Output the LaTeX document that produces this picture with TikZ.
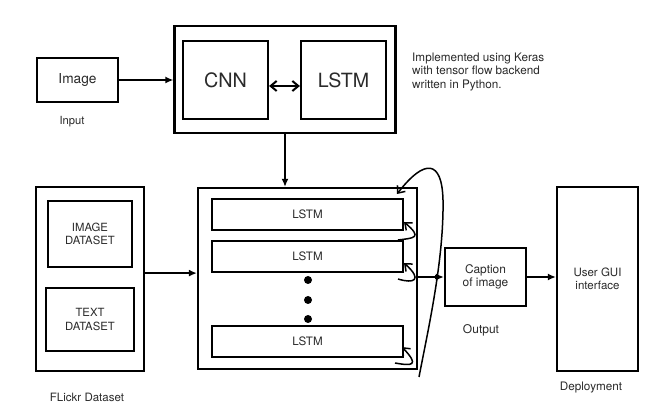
\documentclass[tikz,border=0pt]{standalone}
\usepackage{fontspec}
\setmainfont{TeX Gyre Heros}
\usetikzlibrary{arrows.meta}
\definecolor{txt}{HTML}{2A2A2A}
\begin{document}
\begin{tikzpicture}[x=1pt,y=-1pt,
  box/.style={draw=black,line width=2.2pt,inner sep=0pt,align=center,text=txt},
  lbl/.style={text=txt,inner sep=0pt,align=center},
  arr/.style={line width=2pt,-{Latex[length=8pt,width=7pt]}},
  hand/.style={line width=1.5pt,-{Straight Barb[length=6pt,width=10pt]}},
  dot/.style={circle,fill=black,inner sep=0pt,minimum size=8pt}]
\useasboundingbox (0,0) rectangle (666,419);
\fill[white] (0,0) rectangle (666,419);
% input
\node[box,minimum width=81pt,minimum height=44pt,font=\fontsize{13.7}{15}\selectfont] (img) at (77.5,80) {Image};
\node[lbl,font=\fontsize{11.2}{13}\selectfont] (inp) at (72,122) {Input};
% top block
\node[box,minimum width=221pt,minimum height=107pt] (top) at (285,79.5) {};
\node[box,minimum width=85pt,minimum height=78pt,font=\fontsize{19.8}{22}\selectfont] (cnn) at (225.5,80) {CNN};
\node[box,minimum width=85pt,minimum height=78pt,font=\fontsize{19.6}{22}\selectfont] (lstmt) at (343.5,80) {LSTM};
\node[lbl,align=left,anchor=west,font=\fontsize{11.7}{13.3}\selectfont] (note) at (412,72) {Implemented using Keras\\with tensor flow backend\\written in Python.};
% dataset
\node[box,minimum width=108pt,minimum height=184pt] (flickr) at (90,279) {};
\node[box,minimum width=84pt,minimum height=66pt,font=\fontsize{11.3}{13.3}\selectfont] (imgds) at (90,234) {IMAGE\\DATASET};
\node[box,minimum width=88pt,minimum height=63pt,font=\fontsize{11.3}{13.3}\selectfont] (txtds) at (90,319.5) {TEXT\\DATASET};
\node[lbl,font=\fontsize{11.5}{13}\selectfont] (flbl) at (87,397) {FLickr Dataset};
% main block
\node[box,minimum width=219pt,minimum height=181pt] (main) at (307.5,278.5) {};
\node[box,minimum width=191pt,minimum height=31pt,font=\fontsize{11.6}{13}\selectfont] (l1) at (307.5,214.5) {LSTM};
\node[box,minimum width=191pt,minimum height=31pt,font=\fontsize{11.6}{13}\selectfont] (l2) at (307.5,256.5) {LSTM};
\node[box,minimum width=191pt,minimum height=31pt,font=\fontsize{11.6}{13}\selectfont] (l3) at (307.5,341.5) {LSTM};
\node[dot] (d1) at (308,280) {};
\node[dot] (d2) at (308,300) {};
\node[dot] (d3) at (308,319) {};
% output
\node[box,minimum width=81pt,minimum height=58pt,font=\fontsize{11.9}{13.3}\selectfont] (cap) at (485.5,277) {Caption\\of image};
\node[lbl,font=\fontsize{12}{14}\selectfont] (olbl) at (481,330) {Output};
\node[box,minimum width=81pt,minimum height=184pt,font=\fontsize{11.5}{13.3}\selectfont] (gui) at (597.5,279) {User GUI\\interface};
\node[lbl,font=\fontsize{11.7}{14}\selectfont] (dlbl) at (591,388) {Deployment};
% connectors
\draw[arr] (img.east) -- (top.west |- img.east);
\draw[line width=2pt,{Straight Barb[length=6pt,width=10pt]}-{Straight Barb[length=6pt,width=10pt]}] (cnn.east |- 0,86) -- (lstmt.west |- 0,86);
\draw[arr] (top.south) -- (main.north -| top.south);
\draw[arr] (flickr.east |- l2.south) -- (main.west |- l2.south);
\draw[arr] (main.east |- cap.west) -- (cap.west);
\draw[arr] (cap.east) -- (gui.west |- cap.east);
% hand-drawn recurrences
\coordinate (hs) at (419,377);
\coordinate (hr) at (443,200);
\coordinate (ht) at (397,194);
\draw[hand] (hs) .. controls (428,330) and (444,260) .. (hr) .. controls (442,160) and (425,158) .. (ht);
\fill (437,277) circle (2.5pt);
\coordinate (a1) at (398,240);
\coordinate (b1) at (404,222);
\draw[hand] (a1) .. controls (414,238) and (423,238) .. (b1);
\coordinate (a2) at (398,279);
\coordinate (b2) at (404,263);
\draw[hand] (a2) .. controls (414,284) and (423,280) .. (b2);
\coordinate (a3) at (395,363);
\coordinate (b3) at (402,347);
\draw[hand] (a3) .. controls (412,366) and (420,366) .. (b3);
\end{tikzpicture}
\end{document}
